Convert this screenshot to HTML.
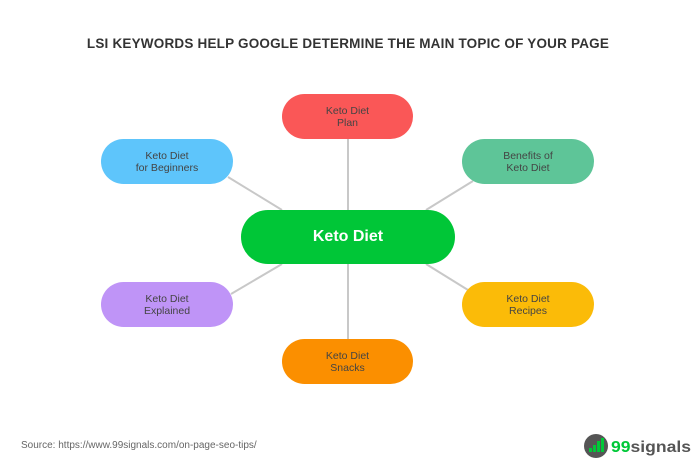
<!DOCTYPE html>
<html><head><style>
body{margin:0;width:696px;height:470px;background:#fff;position:relative;font-family:"Liberation Sans",sans-serif;overflow:hidden}
.t{position:absolute;left:0;width:696px;top:36px;text-align:center;font-weight:bold;font-size:13.5px;color:#333;letter-spacing:0.2px}
.n{position:absolute;border-radius:23px;display:flex;align-items:center;justify-content:center;text-align:center;font-size:10.5px;line-height:12px;color:#444;width:132px;height:45px}
.src{position:absolute;left:21px;top:440px;font-size:10px;color:#666}
</style></head><body>
<div class="t">LSI KEYWORDS HELP GOOGLE DETERMINE THE MAIN TOPIC OF YOUR PAGE</div>
<svg width="696" height="470" style="position:absolute;left:0;top:0">
<g stroke="#c8c8c8" stroke-width="2">
<line x1="348" y1="139" x2="348" y2="339"/>
<line x1="282" y1="210" x2="228" y2="177"/>
<line x1="426" y1="210" x2="473" y2="181"/>
<line x1="282" y1="264" x2="231" y2="294"/>
<line x1="426" y1="264" x2="468" y2="290"/>
</g>
<circle cx="596" cy="446" r="12" fill="#555"/>
<rect x="589" y="448" width="3" height="4" fill="#00c838"/>
<rect x="593" y="445" width="3" height="7" fill="#00c838"/>
<rect x="597" y="441" width="3" height="11" fill="#00c838"/>
<rect x="601" y="438" width="3" height="14" fill="#00c838"/>
<text x="611" y="452" font-family="Liberation Sans" font-weight="bold" font-size="16" fill="#00c838" textLength="80" lengthAdjust="spacingAndGlyphs">99<tspan fill="#555">signals</tspan></text>
</svg>
<div class="n" style="left:282px;top:94px;width:131px;background:#fa5757">Keto Diet<br>Plan</div>
<div class="n" style="left:101px;top:139px;background:#5ec5fb">Keto Diet<br>for Beginners</div>
<div class="n" style="left:462px;top:139px;background:#5ec598">Benefits of<br>Keto Diet</div>
<div class="n" style="left:241px;top:210px;width:214px;height:54px;border-radius:27px;background:#00c637;color:#fff;font-size:16px;font-weight:bold">Keto Diet</div>
<div class="n" style="left:101px;top:282px;background:#bf94f7">Keto Diet<br>Explained</div>
<div class="n" style="left:462px;top:282px;background:#fbbb08">Keto Diet<br>Recipes</div>
<div class="n" style="left:282px;top:339px;width:131px;background:#fb8f00">Keto Diet<br>Snacks</div>
<div class="src">Source: https://www.99signals.com/on-page-seo-tips/</div>
</body></html>
